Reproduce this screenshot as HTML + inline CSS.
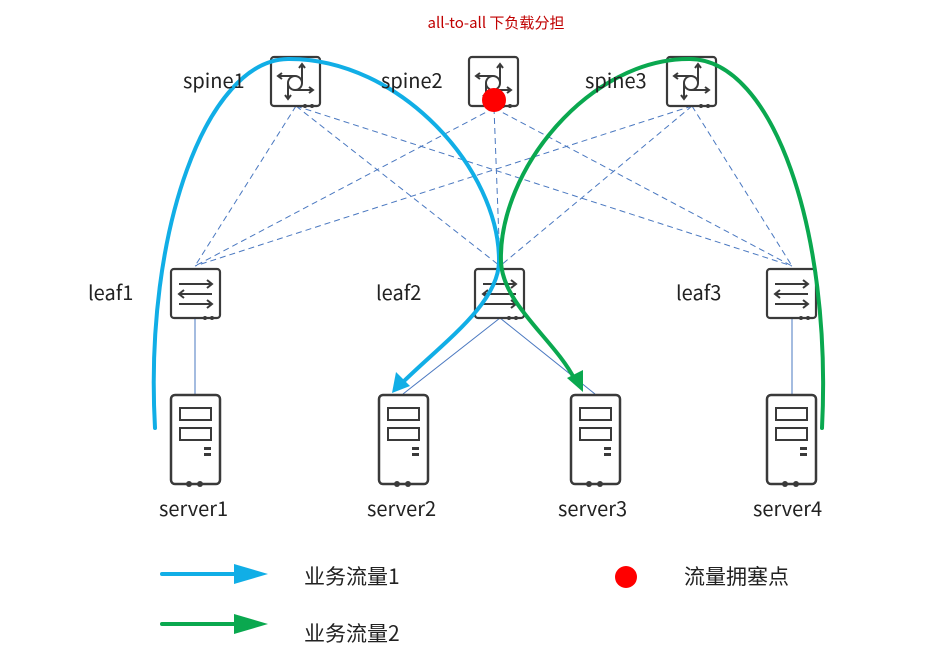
<!DOCTYPE html>
<html><head><meta charset="utf-8"><style>
html,body{margin:0;padding:0;background:#fff;}
svg text{font-family:"Noto Sans CJK SC","Liberation Sans",sans-serif;}
</style></head><body>
<svg width="945" height="652" viewBox="0 0 945 652" xmlns="http://www.w3.org/2000/svg">
<defs>
<g id="spine">
 <rect x="0" y="0" width="49" height="49" rx="3" fill="#fff" stroke="#3a3a3a" stroke-width="2.2"/>
 <circle cx="24" cy="26" r="7" fill="none" stroke="#3a3a3a" stroke-width="2"/>
 <path d="M31,26 V8 M28,11 L31,7 L34,11" fill="none" stroke="#3a3a3a" stroke-width="2"/>
 <path d="M24,19 H8 M11,16 L7,19 L11,22" fill="none" stroke="#3a3a3a" stroke-width="2"/>
 <path d="M17,26 V41 M14,38 L17,42 L20,38" fill="none" stroke="#3a3a3a" stroke-width="2"/>
 <path d="M24,33 H41 M38,30 L42,33 L38,36" fill="none" stroke="#3a3a3a" stroke-width="2"/>
 <circle cx="34" cy="49" r="2" fill="#3a3a3a"/><circle cx="41" cy="49" r="2" fill="#3a3a3a"/>
</g>
<g id="leaf">
 <rect x="0" y="0" width="49" height="49" rx="3" fill="#fff" stroke="#3a3a3a" stroke-width="2.2"/>
 <path d="M8,15 H40 M36,11 L41,15 L36,19" fill="none" stroke="#3a3a3a" stroke-width="2"/>
 <path d="M41,25 H9 M13,21 L8,25 L13,29" fill="none" stroke="#3a3a3a" stroke-width="2"/>
 <path d="M8,35 H40 M36,31 L41,35 L36,39" fill="none" stroke="#3a3a3a" stroke-width="2"/>
 <circle cx="34" cy="49" r="2" fill="#3a3a3a"/><circle cx="41" cy="49" r="2" fill="#3a3a3a"/>
</g>
<g id="server">
 <rect x="0" y="0" width="49" height="89" rx="4" fill="#fff" stroke="#3a3a3a" stroke-width="2.5"/>
 <rect x="9" y="13" width="31" height="12" fill="none" stroke="#3a3a3a" stroke-width="2"/>
 <rect x="9" y="33" width="31" height="12" fill="none" stroke="#3a3a3a" stroke-width="2"/>
 <rect x="33" y="52" width="7" height="3" fill="#3a3a3a"/><rect x="33" y="58" width="7" height="3" fill="#3a3a3a"/>
 <circle cx="18" cy="89" r="3" fill="#3a3a3a"/><circle cx="29" cy="89" r="3" fill="#3a3a3a"/>
</g>
</defs>

<text x="496" y="28" font-size="15" fill="#c00000" text-anchor="middle">all-to-all 下负载分担</text>

<g stroke="#4a78c0" stroke-width="1" stroke-dasharray="6,4" fill="none">
 <line x1="296" y1="106" x2="195" y2="266"/><line x1="296" y1="106" x2="500" y2="266"/><line x1="296" y1="106" x2="792" y2="266"/>
 <line x1="494" y1="108" x2="195" y2="266"/><line x1="494" y1="108" x2="500" y2="266"/><line x1="494" y1="108" x2="792" y2="266"/>
 <line x1="692" y1="106" x2="195" y2="266"/><line x1="692" y1="106" x2="500" y2="266"/><line x1="692" y1="106" x2="792" y2="266"/>
</g>
<g stroke="#4a78c0" stroke-width="1" fill="none">
 <line x1="195" y1="318" x2="195" y2="394"/>
 <line x1="792" y1="318" x2="792" y2="394"/>
 <line x1="500" y1="318" x2="403" y2="394"/>
 <line x1="500" y1="318" x2="595" y2="394"/>
</g>

<use href="#spine" x="271" y="57"/>
<use href="#spine" x="469" y="57"/>
<use href="#spine" x="667" y="57"/>
<use href="#leaf" x="171" y="269"/>
<use href="#leaf" x="475" y="269"/>
<use href="#leaf" x="767" y="269"/>
<use href="#server" x="171" y="395"/>
<use href="#server" x="379" y="395"/>
<use href="#server" x="571" y="395"/>
<use href="#server" x="767" y="395"/>

<path d="M155,428 C144,230 207,60 288,59 C400,58 500,170 499,262 C498,305 440,345 400,385" fill="none" stroke="#11aee6" stroke-width="4" stroke-linecap="round"/>
<path d="M392,393 L396,372 L410,386 Z" fill="#11aee6"/>
<path d="M822,428 C832,230 773,60 690,59 C590,58 498,170 501,262 C503,305 555,340 575,380" fill="none" stroke="#0aa84f" stroke-width="4" stroke-linecap="round"/>
<path d="M583,392 L567,378 L583,370 Z" fill="#0aa84f"/>

<circle cx="494" cy="100" r="12" fill="#f00"/>

<g font-size="20" fill="#222">
 <text x="183" y="88">spine1</text>
 <text x="381" y="88">spine2</text>
 <text x="585" y="88">spine3</text>
 <text x="88" y="300">leaf1</text>
 <text x="376" y="300">leaf2</text>
 <text x="676" y="300">leaf3</text>
 <text x="159" y="516">server1</text>
 <text x="367" y="516">server2</text>
 <text x="558" y="516">server3</text>
 <text x="753" y="516">server4</text>
</g>

<line x1="162" y1="574" x2="235" y2="574" stroke="#11aee6" stroke-width="4" stroke-linecap="round"/>
<path d="M234,564 L268,574 L234,584 Z" fill="#11aee6"/>
<line x1="162" y1="624" x2="235" y2="624" stroke="#0aa84f" stroke-width="4" stroke-linecap="round"/>
<path d="M234,614 L268,624 L234,634 Z" fill="#0aa84f"/>
<circle cx="626" cy="577" r="11" fill="#f00"/>
<g font-size="21" fill="#222">
 <text x="304" y="584">业务流量1</text>
 <text x="304" y="641">业务流量2</text>
 <text x="684" y="584">流量拥塞点</text>
</g>
</svg>
</body></html>
